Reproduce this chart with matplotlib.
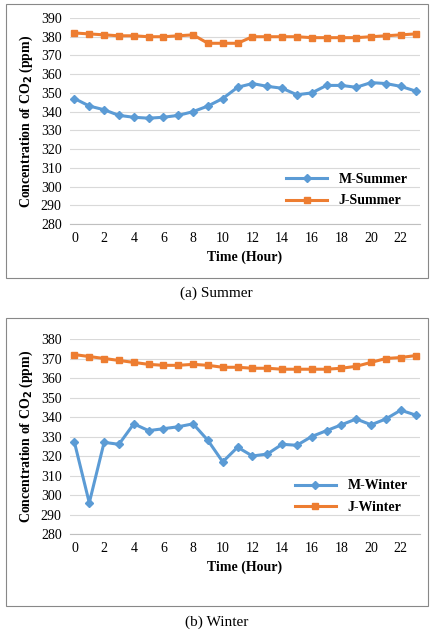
import matplotlib
matplotlib.use("Agg")
import matplotlib.pyplot as plt
from matplotlib.patches import Rectangle

plt.rcParams['font.family'] = ['Liberation Serif', 'DejaVu Serif']

hours = list(range(24))
m_summer = [347,343,341,338,337,336.5,337,338,340,343,347,353,355,353.5,352.5,349,350,354,354,353,355.5,355,353.5,351]
j_summer = [382,381.5,381,380.5,380.5,380,380,380.5,381,376.5,376.5,376.5,380,380,380,380,379.5,379.5,379.5,379.5,380,380.5,381,381.5]
m_winter = [327,296,327,326,336.5,333,334,335,336.5,328,317,324.5,320,321,326,325.5,330,333,336,339,336,339,343.5,341]
j_winter = [372,371,370,369,368,367,366.5,366.5,367,366.5,365.5,365.5,365,365,364.5,364.5,364.5,364.5,365,366,368,370,370.5,371.5]

W, H = 433, 636
fig = plt.figure(figsize=(W/100, H/100), dpi=100)
blue, orange = '#5B9BD5', '#ED7D31'

def panel(top, bot, m, j, lm, lj, ylim, caption, capy, box, legy):
    ax = fig.add_axes([70/W, 1-bot/H, 350/W, (bot-top)/H])
    ax.plot(hours, m, color=blue, marker='D', ms=4, lw=2.2, label=lm)
    ax.plot(hours, j, color=orange, marker='s', ms=4, lw=2.2, label=lj)
    ax.set_ylim(*ylim)
    ax.set_yticks(range(ylim[0], ylim[1]+1, 10))
    ax.set_xlim(-0.3, 23.3)
    ax.set_xticks(range(0, 24, 2))
    ax.grid(axis='y', color='#d9d9d9', lw=0.8)
    ax.set_axisbelow(True)
    for s in ['top', 'right', 'left']:
        ax.spines[s].set_visible(False)
    ax.spines['bottom'].set_color('#bfbfbf')
    ax.tick_params(length=0, labelsize=10, pad=6)
    ax.set_xlabel('Time (Hour)', fontsize=10, fontweight='bold', labelpad=4)
    ax.set_ylabel('Concentration of CO$_\\mathbf{2}$ (ppm)', fontsize=10, fontweight='bold')
    ax.legend(loc='lower right', bbox_to_anchor=(1.0, legy), frameon=False,
              prop={'weight': 'bold', 'size': 10}, handlelength=3, labelspacing=0.6)
    fig.text(0.5, 1-capy/H, caption, ha='center', va='center', fontsize=11)
    fig.patches.append(Rectangle((box[0]/W, 1-box[3]/H), (box[2]-box[0])/W, (box[3]-box[1])/H,
                                 transform=fig.transFigure, fill=False, ec='#888888', lw=0.8))

panel(18, 224, m_summer, j_summer, 'M-Summer', 'J-Summer', (280, 390), '(a) Summer', 293, (6, 4, 428, 278), 0.02)
panel(339, 534, m_winter, j_winter, 'M-Winter', 'J-Winter', (280, 380), '(b) Winter', 622, (6, 318, 428, 606), 0.04)

fig.savefig('out.png', dpi=100)
